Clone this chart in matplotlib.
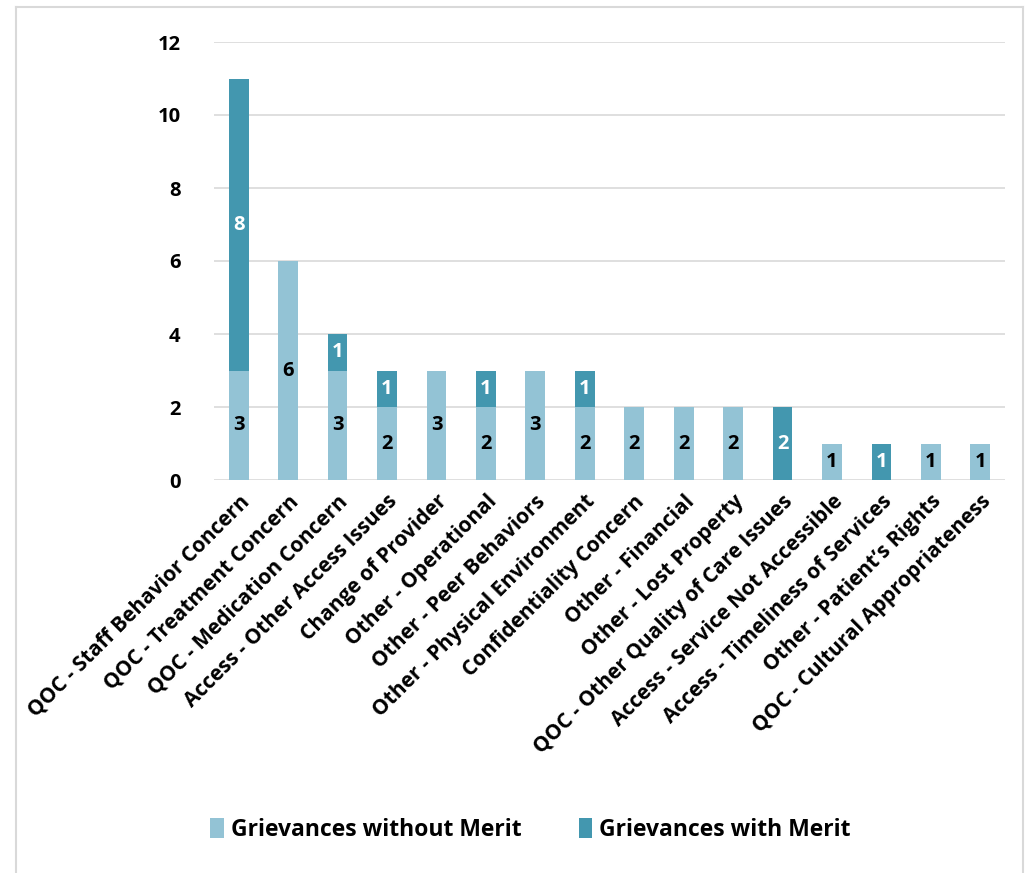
import matplotlib.pyplot as plt
from matplotlib.lines import Line2D

categories = [
    'QOC - Staff Behavior Concern',
    'QOC - Treatment Concern',
    'QOC - Medication Concern',
    'Access - Other Access Issues',
    'Change of Provider',
    'Other - Operational',
    'Other - Peer Behaviors',
    'Other - Physical Environment',
    'Confidentiality Concern',
    'Other - Financial',
    'Other - Lost Property',
    'QOC - Other Quality of Care Issues',
    'Access - Service Not Accessible',
    'Access - Timeliness of Services',
    'Other - Patient\u2019s Rights',
    'QOC - Cultural Appropriateness',
]
without_merit = [3, 6, 3, 2, 3, 2, 3, 2, 2, 2, 2, 0, 1, 0, 1, 1]
with_merit = [8, 0, 1, 1, 0, 1, 0, 1, 0, 0, 0, 2, 0, 1, 0, 0]

light = '#93c3d5'
dark = '#4397af'
plt.rcParams['font.family'] = ['Open Sans', 'DejaVu Sans']

W, H = 1030, 873
fig = plt.figure(figsize=(W / 100, H / 100), dpi=100)
ax = fig.add_axes([214 / W, 1 - 480 / H, (1005 - 214) / W, (480 - 42) / H])

x = range(len(categories))
ax.bar(x, without_merit, width=0.4, color=light, zorder=2,
       label='Grievances without Merit')
ax.bar(x, with_merit, width=0.4, bottom=without_merit, color=dark, zorder=2,
       label='Grievances with Merit')

# segment labels, skipping empty segments
for i in x:
    lo, hi = without_merit[i], with_merit[i]
    if lo:
        ax.text(i, lo / 2, str(lo), ha='center', va='center',
                fontsize=14.5, fontweight='bold', color='black')
    if hi:
        ax.text(i, lo + hi / 2, str(hi), ha='center', va='center',
                fontsize=14.5, fontweight='bold', color='white')

ax.set_xlim(-0.5, len(categories) - 0.5)
ax.set_ylim(0, 12)
ax.set_yticks(range(0, 13, 2))
ax.yaxis.grid(True, color='#d9d9d9', linewidth=1.2, zorder=0)
ax.set_axisbelow(True)
for s in ax.spines.values():
    s.set_visible(False)
ax.tick_params(axis='both', length=0)
ax.tick_params(axis='y', pad=24, labelsize=14.5)
for t in ax.get_yticklabels():
    t.set_fontweight('bold')
ax.set_xticks(list(x))
ax.set_xticklabels(categories, rotation=45, ha='right', rotation_mode='anchor',
                   fontsize=15, fontweight='bold')
ax.tick_params(axis='x', pad=8)

handles, labels = ax.get_legend_handles_labels()
fig.legend(handles, labels, loc='center', bbox_to_anchor=(0.515, 1 - 830 / H),
           ncol=2, frameon=False, handlelength=0.6, handleheight=1.0,
           handletextpad=0.3, columnspacing=2.5,
           prop={'weight': 'bold', 'size': 16.5})

# outer frame
c = '#d9d9d9'
fig.add_artist(Line2D([16 / W, 16 / W], [0, 1 - 7 / H], color=c, lw=1.5))
fig.add_artist(Line2D([16 / W, 1023 / W], [1 - 7 / H, 1 - 7 / H], color=c, lw=1.5))
fig.add_artist(Line2D([1023 / W, 1023 / W], [0, 1 - 7 / H], color=c, lw=1.5))

fig.savefig('out.png', dpi=100)
